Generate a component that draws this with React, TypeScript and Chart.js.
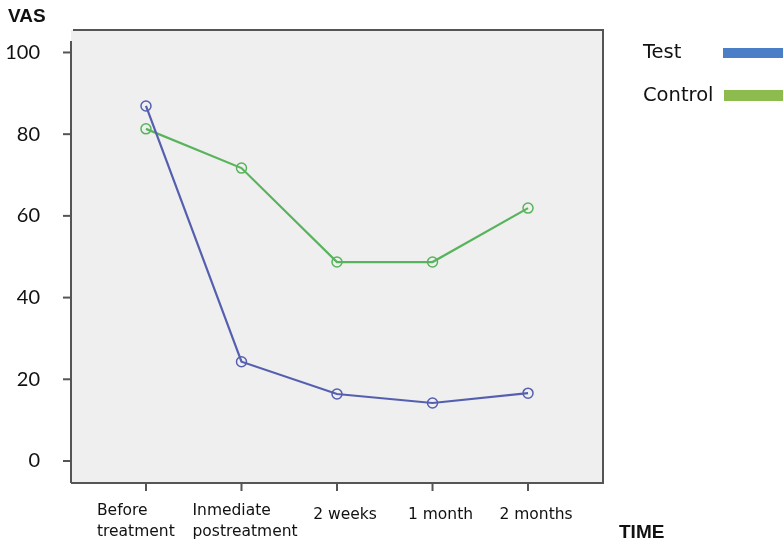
import React, { useEffect, useRef } from "react";
import { Chart, registerables } from "chart.js";

Chart.register(...registerables);

const categories: string[][] = [
  ["Before", "treatment"],
  ["Inmediate", "postreatment"],
  ["2 weeks"],
  ["1 month"],
  ["2 months"],
];
const testValues = [86.9, 24.3, 16.4, 14.2, 16.6];
const controlValues = [81.3, 71.7, 48.7, 48.7, 61.9];
const yTicks = [0, 20, 40, 60, 80, 100];
const seriesNames = ["Test", "Control"];

const TEST_LINE = "#555fb0";
const CONTROL_LINE = "#58b45c";
const TEST_SWATCH = "#4a7ec6";
const CONTROL_SWATCH = "#8dbb4e";
const FRAME = "#555555";
const TEXT = "#111111";

const decorPlugin = {
  id: "decor",
  beforeDraw(chart: any) {
    const { ctx, chartArea } = chart;
    ctx.save();
    ctx.fillStyle = "#efefef";
    ctx.fillRect(chartArea.left, chartArea.top, chartArea.right - chartArea.left, chartArea.bottom - chartArea.top);
    ctx.restore();
  },
  afterDraw(chart: any) {
    const { ctx, chartArea, scales } = chart;
    const xs = scales.x;
    const ys = scales.y;
    const { left, right, top, bottom } = chartArea;
    ctx.save();
    ctx.lineWidth = 2;
    ctx.strokeStyle = FRAME;
    // frame
    ctx.beginPath();
    ctx.moveTo(left + 2, top);
    ctx.lineTo(right, top);
    ctx.lineTo(right, bottom);
    ctx.lineTo(left, bottom);
    ctx.moveTo(left, bottom);
    ctx.lineTo(left, top + 11);
    ctx.stroke();

    // y ticks and labels
    ctx.fillStyle = TEXT;
    ctx.font = "20px Lato";
    ctx.textAlign = "right";
    ctx.textBaseline = "middle";
    yTicks.forEach((v) => {
      const py = ys.getPixelForValue(v);
      ctx.beginPath();
      ctx.moveTo(left - 8, py);
      ctx.lineTo(left, py);
      ctx.stroke();
      ctx.fillText(String(v), left - 31, py);
    });

    // x ticks and labels
    ctx.font = "15.5px 'DejaVu Sans'";
    ctx.textBaseline = "alphabetic";
    categories.forEach((lines, i) => {
      const px = xs.getPixelForValue(i);
      ctx.beginPath();
      ctx.moveTo(px, bottom);
      ctx.lineTo(px, bottom + 8);
      ctx.stroke();
      if (lines.length > 1) {
        ctx.textAlign = "left";
        lines.forEach((t, j) => ctx.fillText(t, px - 49, bottom + 32 + j * 21));
      } else {
        ctx.textAlign = "center";
        ctx.fillText(lines[0], px + 8, bottom + 36);
      }
    });

    // axis titles
    ctx.font = "bold 19px 'Liberation Sans'";
    ctx.textAlign = "left";
    ctx.fillText("VAS", 8, 22);
    ctx.fillText("TIME", 619, 538);

    // legend
    ctx.font = "19.5px 'DejaVu Sans'";
    ctx.fillText(seriesNames[0], 643, 58);
    ctx.fillText(seriesNames[1], 643, 101);
    ctx.fillStyle = TEST_SWATCH;
    ctx.fillRect(723, 48, 60, 10);
    ctx.fillStyle = CONTROL_SWATCH;
    ctx.fillRect(724, 90, 60, 11);
    ctx.restore();
  },
};

export default function App() {
  const canvasRef = useRef<HTMLCanvasElement | null>(null);

  useEffect(() => {
    document.body.style.margin = "0";
    const canvas = canvasRef.current;
    if (!canvas) return;
    const chart = new Chart(canvas, {
      type: "line",
      data: {
        datasets: [
          {
            label: seriesNames[0],
            data: testValues.map((v, i) => ({ x: i, y: v })),
            borderColor: TEST_LINE,
            borderWidth: 2.2,
            pointRadius: 5,
            pointBorderWidth: 1.5,
            pointBorderColor: TEST_LINE,
            pointBackgroundColor: "rgba(0,0,0,0)",
            tension: 0,
          },
          {
            label: seriesNames[1],
            data: controlValues.map((v, i) => ({ x: i, y: v })),
            borderColor: CONTROL_LINE,
            borderWidth: 2.2,
            pointRadius: 5,
            pointBorderWidth: 1.5,
            pointBorderColor: CONTROL_LINE,
            pointBackgroundColor: "rgba(0,0,0,0)",
            tension: 0,
          },
        ],
      },
      options: {
        responsive: false,
        animation: false,
        layout: { padding: { left: 71, top: 30, right: 180, bottom: 60 } },
        plugins: { legend: { display: false }, tooltip: { enabled: false } },
        scales: {
          x: { type: "linear", display: false, min: -0.785, max: 4.785 },
          y: { type: "linear", display: false, min: -5.39, max: 105.5 },
        },
      },
      plugins: [decorPlugin],
    });
    return () => chart.destroy();
  }, []);

  return (
    <div style={{ position: "fixed", left: 0, top: 0, width: 783, height: 543, background: "#fff" }}>
      <canvas ref={canvasRef} width={783} height={543} />
    </div>
  );
}
